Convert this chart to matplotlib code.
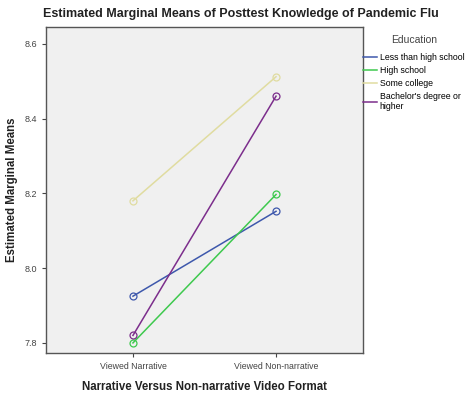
import matplotlib
matplotlib.use('Agg')
import matplotlib.pyplot as plt

plt.rcParams['font.family'] = ['Liberation Sans', 'DejaVu Sans']

formats = ['Viewed Narrative', 'Viewed Non-narrative']
groups = ['Less than high school', 'High school', 'Some college', "Bachelor's degree or\nhigher"]
less_hs = [7.925, 8.152]
high_school = [7.80, 8.197]
some_college = [8.18, 8.512]
bachelor = [7.82, 8.46]
colors = ['#3e58ac', '#3ec94e', '#e0dca0', '#7c2e8c']

fig = plt.figure(figsize=(4.66, 4.07), dpi=100)
ax = fig.add_axes([46/466, 1-353/407, 317/466, 326/407])
ax.set_facecolor('#f0f0f0')

x = [0, 1]
for vals, c, lab in zip([less_hs, high_school, some_college, bachelor], colors, groups):
    ax.plot(x, vals, color=c, lw=1.1, marker='o', ms=5, mfc='none', mec=c, mew=0.9, label=lab)

ax.set_xlim(-0.608, 1.608)
ax.set_ylim(7.773, 8.645)
ax.set_xticks(x)
ax.set_xticklabels(formats, fontsize=6.3, color='#444444')
ax.set_yticks([7.8, 8.0, 8.2, 8.4, 8.6])
ax.set_yticklabels(['7.8', '8.0', '8.2', '8.4', '8.6'], fontsize=6.5, color='#444444')
ax.tick_params(length=3, color='#444444', width=0.8)
for s in ax.spines.values():
    s.set_color('#555555')
    s.set_linewidth(1)

fig.text(241/466, 1-14/407, 'Estimated Marginal Means of Posttest Knowledge of Pandemic Flu',
         fontsize=9.0, fontweight='bold', color='#222222', ha='center', va='center')
ax.set_xlabel('Narrative Versus Non-narrative Video Format', fontsize=8.3, fontweight='bold',
              color='#222222', labelpad=7)
ax.set_ylabel('Estimated Marginal Means', fontsize=8.3, fontweight='bold', color='#222222')
ax.yaxis.set_label_coords(-28/317, 0.5)

leg = ax.legend(loc='upper left', bbox_to_anchor=(1.0, 0.975), frameon=False, fontsize=6.3,
                title='Education', title_fontsize=7.5, handlelength=1.6, handletextpad=0.3,
                borderaxespad=0, borderpad=0, labelspacing=0.42)
leg._legend_box.sep = 6
for h in leg.get_lines():
    h.set_marker('')
leg.get_title().set_color('#444444')

fig.savefig('out.png', dpi=100)
